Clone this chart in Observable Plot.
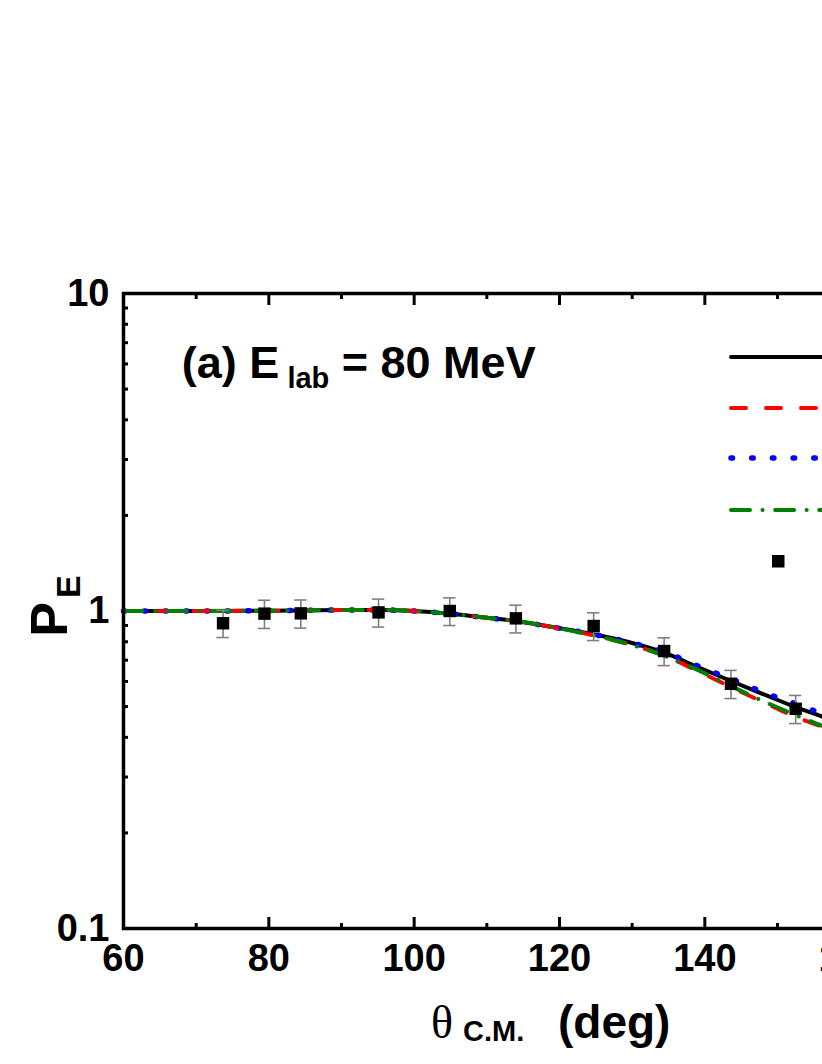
<!DOCTYPE html>
<html><head><meta charset="utf-8">
<script src="https://cdn.jsdelivr.net/npm/d3@7"></script>
<script src="https://cdn.jsdelivr.net/npm/@observablehq/plot@0.6"></script>
<style>
html,body{margin:0;padding:0;overflow:hidden;background:#fff;}
#chart{width:822px;height:1064px;overflow:hidden;}
#chart svg{max-width:none !important;}
</style></head><body><div id="chart"></div>
<script>
// ---- data ----
const theta   = [60, 70, 80, 90, 95, 100, 105, 110, 114, 119, 124.5, 130, 134.5, 138.7, 143.6, 148.3, 152.5, 155.9, 157];
const pSolid  = [1.0, 1.0, 1.002, 1.007, 1.008, 1.0, 0.98, 0.952, 0.93, 0.89, 0.846, 0.793, 0.738, 0.671, 0.602, 0.544, 0.498, 0.467, 0.457];
const pDash   = [1.0, 1.0, 1.002, 1.007, 1.008, 1.0, 0.98, 0.952, 0.93, 0.89, 0.840, 0.781, 0.722, 0.652, 0.576, 0.513, 0.464, 0.434, 0.425];
const pDot    = [1.0, 1.0, 1.002, 1.007, 1.008, 1.0, 0.98, 0.952, 0.93, 0.89, 0.846, 0.793, 0.743, 0.676, 0.611, 0.552, 0.510, 0.477, 0.467];
const pDashDot= [1.0, 1.0, 1.002, 1.007, 1.008, 1.0, 0.98, 0.952, 0.93, 0.89, 0.840, 0.781, 0.722, 0.657, 0.580, 0.517, 0.470, 0.437, 0.428];

const expTheta = [73.7, 79.4, 84.4, 95.1, 104.9, 114.0, 124.7, 134.4, 143.6, 152.5];
const expP     = [0.915, 0.981, 0.983, 0.99, 1.0, 0.948, 0.897, 0.748, 0.590, 0.492];
const expErr   = [0.09, 0.10, 0.10, 0.10, 0.10, 0.095, 0.09, 0.075, 0.06, 0.05];

const xMajor = [60, 80, 100, 120, 140, 160, 180];
const xMinor = [70, 90, 110, 130, 150, 170];
const yMajor = [0.1, 1, 10];
const yMinor = [0.2,0.3,0.4,0.5,0.6,0.7,0.8,0.9,2,3,4,5,6,7,8,9];
const yTickLabels = ["0.1", "1", "10"];

// ---- build tables ----
const seriesDefs = [
  {p: pSolid,   stroke: "black",   dash: null,                 width: 4},
  {p: pDot,     stroke: "#0000ff", dash: "1.5,19.2",           width: 5.5},
  {p: pDash,    stroke: "#ff0000", dash: "15,20",              width: 4},
  {p: pDashDot, stroke: "#008000", dash: "19,12.5,0.1,12.5",   width: 4}
];
const exp = expTheta.map((t, i) => ({x: t, p: expP[i], e: expErr[i]}));

const W = 1100;
const lineMarks = seriesDefs.map(s => Plot.line(theta.map((t, i) => ({x: t, y: s.p[i]})), {
  x: "x", y: "y", stroke: s.stroke, strokeWidth: s.width,
  strokeDasharray: s.dash, strokeLinecap: "round", curve: "monotone-x"
}));

const font = "Liberation Sans, Arial, Helvetica, sans-serif";
const plot = Plot.plot({
  width: W, height: 1064,
  marginLeft: 123, marginRight: W - 995, marginTop: 293, marginBottom: 136,
  style: {fontFamily: font, background: "white", maxWidth: "none"},
  x: {domain: [60, 180]},
  y: {type: "log", domain: [0.1, 10]},
  marks: [
    // ticks (inward)
    Plot.axisX(xMajor, {anchor: "bottom", tickSize: -11, strokeWidth: 3, tickFormat: () => "", label: null}),
    Plot.axisX(xMinor, {anchor: "bottom", tickSize: -5, strokeWidth: 3, tickFormat: () => "", label: null}),
    Plot.axisX(xMajor, {anchor: "top", tickSize: -11, strokeWidth: 3, tickFormat: () => "", label: null}),
    Plot.axisX(xMinor, {anchor: "top", tickSize: -5, strokeWidth: 3, tickFormat: () => "", label: null}),
    Plot.axisY(yMajor, {anchor: "left", tickSize: -11, strokeWidth: 3, tickFormat: () => "", label: null}),
    Plot.axisY(yMinor, {anchor: "left", tickSize: -5, strokeWidth: 3, tickFormat: () => "", label: null}),
    Plot.axisY(yMajor, {anchor: "right", tickSize: -11, strokeWidth: 3, tickFormat: () => "", label: null}),
    Plot.axisY(yMinor, {anchor: "right", tickSize: -5, strokeWidth: 3, tickFormat: () => "", label: null}),
    // tick labels
    Plot.axisX(xMajor, {anchor: "bottom", tickSize: 0, tickPadding: 16, fontSize: 38, fontWeight: "bold", fill: "black", label: null, tickFormat: d => String(d)}),
    Plot.axisY(yMajor, {anchor: "left", tickSize: 0, tickPadding: 14, fontSize: 38, fontWeight: "bold", fill: "black", label: null, tickFormat: d => yTickLabels[yMajor.indexOf(d)]}),
    ...lineMarks,
    // error bars
    Plot.ruleX(exp, {x: "x", y1: d => d.p - d.e, y2: d => d.p + d.e, stroke: "#808080", strokeWidth: 1.6}),
    Plot.ruleY(exp, {y: d => d.p + d.e, x1: d => d.x - 0.85, x2: d => d.x + 0.85, stroke: "#808080", strokeWidth: 1.6}),
    Plot.ruleY(exp, {y: d => d.p - d.e, x1: d => d.x - 0.85, x2: d => d.x + 0.85, stroke: "#808080", strokeWidth: 1.6}),
    Plot.dot(exp, {x: "x", y: "p", symbol: "square", r: 7, fill: "black", stroke: "none"}),
    Plot.frame({stroke: "black", strokeWidth: 3.5})
  ]
});
document.getElementById("chart").appendChild(plot);

// ---- annotations, axis titles and legend ----
const svg = d3.select(plot);
const xs = plot.scale("x");

// panel label
const ann = svg.append("text").attr("x", xs.apply(68.1)).attr("y", 378).attr("text-anchor", "start")
  .attr("font-family", font).attr("font-weight", "bold").attr("font-size", 45).attr("fill", "black");
ann.append("tspan").text("(a) E");
ann.append("tspan").attr("font-size", 29).attr("dy", 10).attr("dx", 8).text("lab");
ann.append("tspan").attr("dy", -10).text(" = 80 MeV");

// x title
const xt = svg.append("text").attr("y", 1038).attr("fill", "black").attr("text-anchor", "start");
xt.append("tspan").attr("x", 431).attr("font-family", "Liberation Serif, Times New Roman, serif").attr("font-size", 46).text("θ");
xt.append("tspan").attr("x", 463).attr("dy", 3).attr("font-family", font).attr("font-weight", "bold").attr("font-size", 29).text("C.M.");
xt.append("tspan").attr("x", 558).attr("dy", -3).attr("font-family", font).attr("font-weight", "bold").attr("font-size", 46).text("(deg)");

// y title
const yt = svg.append("text").attr("transform", "translate(67,606) rotate(-90)")
  .attr("text-anchor", "middle").attr("font-family", font).attr("font-weight", "bold").attr("fill", "black");
yt.append("tspan").attr("font-size", 52).text("P");
yt.append("tspan").attr("font-size", 34).attr("dy", 13).attr("dx", 4).text("E");

// legend (samples; the labels lie beyond the visible edge)
const leg = svg.append("g");
const legY = [357, 408, 458, 510];
const legOrder = [0, 2, 1, 3];
legOrder.forEach((si, k) => {
  const s = seriesDefs[si];
  leg.append("line").attr("x1", 731).attr("x2", 900).attr("y1", legY[k]).attr("y2", legY[k])
    .attr("stroke", s.stroke).attr("stroke-width", s.width).attr("stroke-linecap", "round")
    .attr("stroke-dasharray", s.dash);
});
leg.append("rect").attr("x", 772).attr("y", 555).attr("width", 12.5).attr("height", 12.5).attr("fill", "black");
</script></body></html>
